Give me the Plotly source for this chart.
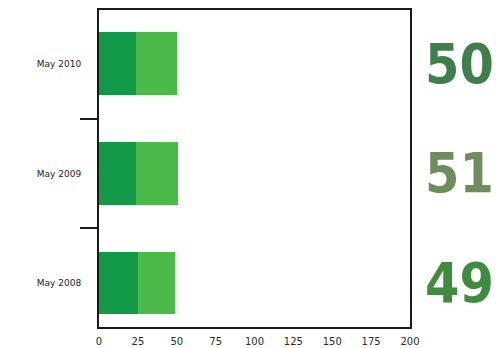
import plotly.graph_objects as go

# Monthly readings, bottom to top
months = ["May 2008", "May 2009", "May 2010"]
base_part = [25, 24, 24]
extra_part = [24, 27, 26]
total_colors = ["#3f8c3f", "#6e8c5c", "#3f7f4c"]

x_ticks = [0, 25, 50, 75, 100, 125, 150, 175, 200]

totals = [a + b for a, b in zip(base_part, extra_part)]

fig = go.Figure()
fig.add_trace(go.Bar(
    y=months, x=base_part, orientation="h",
    marker=dict(color="#129a48", line=dict(width=0)), width=0.57,
))
fig.add_trace(go.Bar(
    y=months, x=extra_part, orientation="h",
    marker=dict(color="#4cba4a", line=dict(width=0)), width=0.57,
))

for m, t, c in zip(months, totals, total_colors):
    fig.add_annotation(
        x=1.0, xref="paper", xanchor="left", xshift=13,
        y=m, yref="y", yanchor="middle",
        text=str(t), showarrow=False,
        font=dict(family="DejaVu Sans Condensed, Roboto", size=55,
                  color=c, weight=600),
    )

fig.update_layout(
    barmode="stack",
    width=501, height=348,
    margin=dict(l=99, r=91, t=10, b=21, autoexpand=False),
    paper_bgcolor="white", plot_bgcolor="white",
    showlegend=False,
    xaxis=dict(
        range=[0, 200], tickvals=x_ticks, ticktext=[str(v) for v in x_ticks],
        showgrid=False, zeroline=False, automargin=False,
        showline=True, linecolor="#1a1a1a", linewidth=2, mirror=True,
        ticks="", ticklabelstandoff=4,
        tickfont=dict(family="DejaVu Sans", size=10, color="#2a2a2a"),
    ),
    yaxis=dict(
        type="category", categoryorder="array", categoryarray=months,
        range=[-0.4, 2.49], automargin=False,
        showgrid=False, zeroline=False,
        showline=True, linecolor="#1a1a1a", linewidth=2, mirror=True,
        ticks="outside", ticklen=17, tickwidth=2, tickcolor="#1a1a1a",
        tickson="boundaries", ticklabelstandoff=14,
        tickfont=dict(family="DejaVu Sans", size=9, color="#222222"),
    ),
)

fig.write_html("out.html")
